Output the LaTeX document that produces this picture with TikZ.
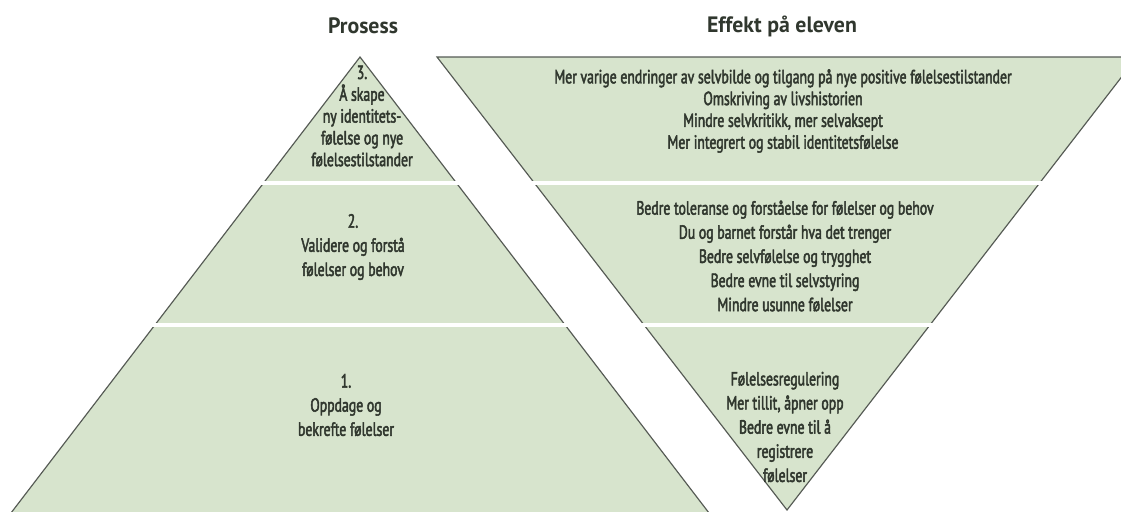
\documentclass[tikz,border=0pt]{standalone}
\usepackage{fontspec}
\setmainfont{PT Sans}[FakeStretch=0.72, FakeBold=2.4]
\newfontfamily\headfont{PT Sans}[FakeStretch=0.98]
\usetikzlibrary{positioning}
\definecolor{sage}{RGB}{215, 228, 205}
\definecolor{edgegray}{RGB}{85, 90, 84}
\definecolor{inkgreen}{RGB}{48, 55, 46}

\tikzset{
  layer/.style={fill=sage, draw=edgegray, line width=0.35mm},
  gapline/.style={white, line width=1.4mm},
  heading/.style={inner sep=0pt, text=inkgreen, font=\headfont\bfseries\fontsize{19}{22}\selectfont},
  toptext/.style={inner sep=0pt, align=center, text=inkgreen, font=\fontsize{16.3}{18.6}\selectfont},
  stagetext/.style={inner sep=0pt, align=center, text=inkgreen, font=\fontsize{16.3}{20.6}\selectfont}
}

\begin{document}
\begin{tikzpicture}[x=0.3mm, y=-0.3mm]
            % Frame to fix the page size:
            \useasboundingbox                                                 (0, 0) rectangle (1121, 511);
            \clip                                                             (0, 0) rectangle (1121, 511);
            % Prosess (pyramid)
            \path[layer]                                                      (-25, 560) -- (360, 57) -- (745, 560);
            % Effekt (upside down)
            \path[layer]                                                      (437, 57) -- (1137, 57) -- (787, 510) -- cycle;
            % Level gaps
            \draw[gapline]                                                    (0, 183) -- (1121, 183);
            \draw[gapline]                                                    (0, 325) -- (1121, 325);
            % Headings
            \node[heading] (prosess) at (363, 26) {Prosess};
            \node[heading] (effekt)  at (782, 26) {Effekt på eleven};
            % Prosess levels
            \node[toptext]   (steg3) at (362, 116) {3.\\Å skape\\ny identitets-\\følelse og nye\\følelsestilstander};
            \node[stagetext] (steg2) at (353, 247) {2.\\Validere og forstå\\følelser og behov};
            \node[stagetext] (steg1) at (346, 405) {1.\\Oppdage og\\bekrefte følelser};
            % Effekt levels
            \node[toptext]   (effekt3) at (783, 111) {Mer varige endringer av selvbilde og tilgang på nye positive følelsestilstander\\Omskriving av livshistorien\\Mindre selvkritikk, mer selvaksept\\Mer integrert og stabil identitetsfølelse};
            \node[stagetext] (effekt2) at (785, 256) {Bedre toleranse og forståelse for følelser og behov\\Du og barnet forstår hva det trenger\\Bedre selvfølelse og trygghet\\Bedre evne til selvstyring\\Mindre usunne følelser};
            \node[stagetext] (effekt1) at (785, 427) {Følelsesregulering\\Mer tillit, åpner opp\\Bedre evne til å\\registrere\\følelser};
\end{tikzpicture}
\end{document}
